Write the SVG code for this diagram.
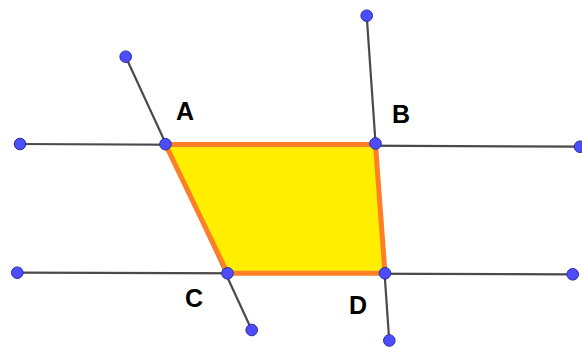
<svg xmlns="http://www.w3.org/2000/svg" width="582" height="349" viewBox="0 0 582 349">
<style>
.ln{stroke:#4a4a4a;stroke-width:2.2;fill:none}
.pt{fill:#4d4dff;stroke:#2b2b9e;stroke-width:1}
.lbl{font-family:"Liberation Sans",Arial,sans-serif;font-weight:bold;font-size:25px;fill:#000}
</style>
<rect width="582" height="349" fill="#fff"/>
<g id="connectors">
<line class="ln" x1="20" y1="144" x2="582" y2="146.7"/>
<line class="ln" x1="17.3" y1="272.7" x2="572.7" y2="274.3"/>
<line class="ln" x1="125.7" y1="56.7" x2="251.7" y2="330"/>
<line class="ln" x1="366.7" y1="15.7" x2="389.3" y2="341.7"/>
</g>
<g id="quad">
<polygon points="165.5,144.5 375.5,144.5 385,273.3 227.5,273.3" fill="#ffee00" stroke="#ff7f27" stroke-width="5" stroke-linejoin="round"/>
</g>
<g id="endpoints">
<circle class="pt" cx="20" cy="144" r="5.8"/>
<circle class="pt" cx="580" cy="146.7" r="5.8"/>
<circle class="pt" cx="17.3" cy="272.7" r="5.8"/>
<circle class="pt" cx="572.7" cy="274.3" r="5.8"/>
<circle class="pt" cx="125.7" cy="56.7" r="5.8"/>
<circle class="pt" cx="251.7" cy="330" r="5.8"/>
<circle class="pt" cx="366.7" cy="15.7" r="5.8"/>
<circle class="pt" cx="389.3" cy="340.5" r="5.8"/>
</g>
<g id="A"><circle class="pt" cx="165.5" cy="144.2" r="5.8"/><text class="lbl" x="176" y="120">A</text></g>
<g id="B"><circle class="pt" cx="375.5" cy="143.5" r="5.8"/><text class="lbl" x="392" y="123">B</text></g>
<g id="C"><circle class="pt" cx="227.5" cy="273.3" r="5.8"/><text class="lbl" x="185" y="307">C</text></g>
<g id="D"><circle class="pt" cx="385" cy="273.3" r="5.8"/><text class="lbl" x="349" y="314">D</text></g>
</svg>
